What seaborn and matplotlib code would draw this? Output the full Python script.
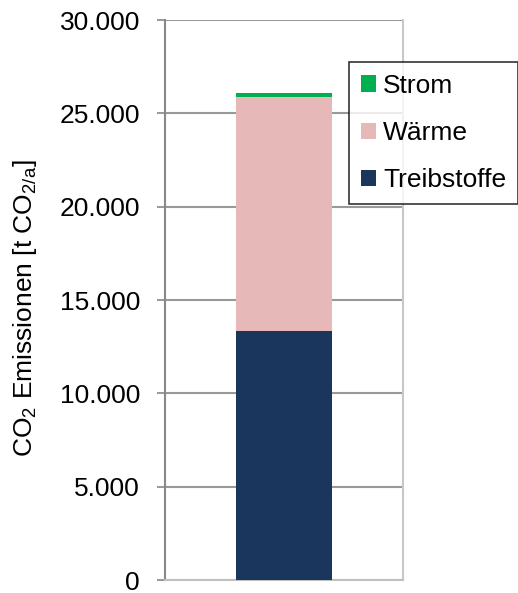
import matplotlib
matplotlib.use("Agg")
import matplotlib.pyplot as plt
from matplotlib.patches import Patch
from matplotlib.ticker import FuncFormatter
import seaborn as sns
import pandas as pd

# CO2 emissions by source, stacked bottom to top
sources = ["Treibstoffe", "Wärme", "Strom"]
values = [13350, 12500, 250]
colors = ["#1b365d", "#e6b8b7", "#00b050"]
category = [""]

sns.set_theme(style="white")
plt.rcParams["font.family"] = ["Liberation Sans", "DejaVu Sans"]
plt.rcParams["mathtext.fontset"] = "custom"
plt.rcParams["mathtext.rm"] = "Liberation Sans"
plt.rcParams["text.color"] = "black"
plt.rcParams["axes.labelcolor"] = "black"

FS = 19

fig = plt.figure(figsize=(5.18, 5.93), dpi=100)
ax = fig.add_axes([165 / 518, 1 - 580 / 593, 238 / 518, 560 / 593])

# cumulative tops, drawn from tallest to shortest so each segment shows
tops = pd.Series(values).cumsum().tolist()
for name, top, col in reversed(list(zip(sources, tops, colors))):
    df = pd.DataFrame({"x": category, "y": [top]})
    sns.barplot(data=df, x="x", y="y", color=col, width=0.4, ax=ax,
                saturation=1, edgecolor="none", linewidth=0, zorder=3)

ax.set_xlim(-0.5, 0.5)
ax.set_ylim(0, 30000)
ax.set_yticks(range(0, 30001, 5000))
ax.yaxis.set_major_formatter(FuncFormatter(lambda v, p: f"{int(v):,}".replace(",", ".")))
ax.tick_params(axis="y", labelsize=FS, length=6, width=1.2, color="#888888",
               direction="out", left=True, pad=12, labelcolor="black")
ax.tick_params(axis="x", bottom=False, labelbottom=False)
ax.set_xlabel("")
ax.set_ylabel(r"CO$_\mathregular{2}$ Emissionen [t CO$_\mathregular{2/a}$]",
              fontsize=FS, color="black")
ax.yaxis.set_label_coords(-0.53, 0.485)

ax.grid(axis="y", color="#999999", linewidth=1.5, zorder=0)
ax.set_axisbelow(True)
for side, col in [("left", "#888888"), ("bottom", "#c0c0c0"),
                  ("right", "#c8c8c8"), ("top", "none")]:
    ax.spines[side].set_visible(True)
    ax.spines[side].set_color(col)
    ax.spines[side].set_linewidth(1.5)

handles = [Patch(facecolor=c, edgecolor="none", label=s)
           for s, c in reversed(list(zip(sources, colors)))]
leg = fig.legend(handles=handles, loc="upper left",
                 bbox_to_anchor=(349 / 518, 1 - 62 / 593),
                 fontsize=FS, frameon=True, fancybox=False,
                 handlelength=0.58, handleheight=0.58, handletextpad=0.27,
                 labelspacing=0.88, borderpad=0.45, borderaxespad=0,
                 labelcolor="black")
leg.get_frame().set_edgecolor("black")
leg.get_frame().set_linewidth(1.2)

fig.savefig("out.png", dpi=100)
